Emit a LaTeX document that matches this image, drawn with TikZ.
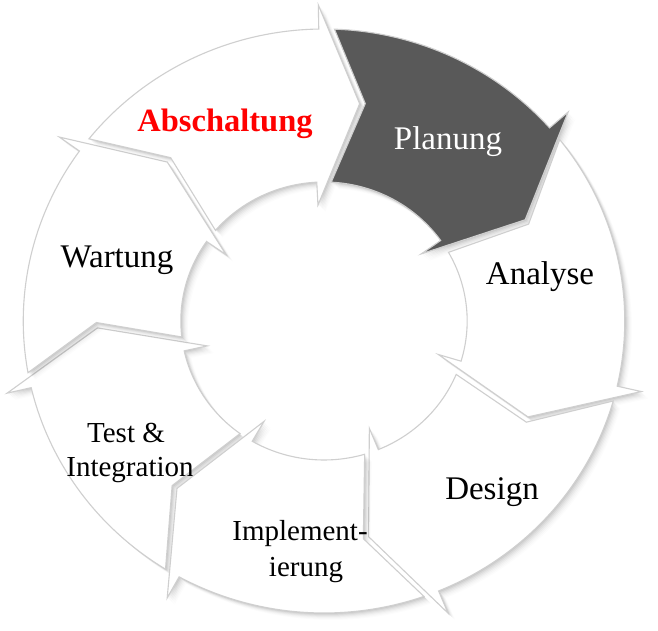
\documentclass[tikz,border=0pt]{standalone}
\usepackage{fontspec}
\setmainfont{Liberation Serif}
% #1,#2: outer/inner barb angle of the tail junction; #3,#4: outer/inner barb angle of the head junction
\newcommand{\segpath}[4]{%
  (90-#1-3.0:292) arc[start angle=90-#1-3.0, end angle=90-#3, radius=292]
  -- (90-#3:316) -- (90-#3/2-#4/2-11:220) -- (90-#4:116) -- (90-#4:139)
  arc[start angle=90-#4, end angle=90-#2-5.8, radius=139]
  -- (90-#1/2-#2/2-12.4:221) -- cycle}
\newcommand{\drawseg}[5]{%
  \foreach \sh/\op in {1/0.05,2/0.045,3/0.035,4/0.03,5/0.02,6/0.015,7/0.01}{%
    \fill[black,opacity=\op,shift={(\sh,-\sh)}] \segpath{#1}{#2}{#3}{#4};}
  \path[seg,fill=#5] \segpath{#1}{#2}{#3}{#4};}
\begin{document}
\begin{tikzpicture}[x=1pt,y=1pt,
  seg/.style={draw=black!19, line width=1.1pt, line join=miter},
  big/.style={font=\fontsize{33}{33}\selectfont, anchor=base, inner sep=0pt},
  small/.style={font=\fontsize{29}{29}\selectfont, anchor=base, inner sep=0pt}]
\useasboundingbox (0,0) rectangle (658,631);
\fill[white] (0,0) rectangle (658,631);
\begin{scope}[shift={(324,310)}, xscale=1.03]
  \drawseg{568.8}{570.1}{616.8}{617.6}{white}
\end{scope}
\node[small] (test1) at (126,188) {Test \&};
\node[small] (test2) at (130,154) {Integration};
\begin{scope}[shift={(324,310)}, xscale=1.03]
  \drawseg{616.8}{617.6}{665.6}{664.9}{white}
  \drawseg{665.6}{664.9}{719}{717.1}{white}
  \drawseg{359}{357.1}{408.6}{414.6}{black!65}
  \drawseg{408.6}{414.6}{462.9}{466.8}{white}
  \drawseg{462.9}{466.8}{517.6}{517.7}{white}
  \drawseg{517.6}{517.7}{568.8}{570.1}{white}
\end{scope}
\node[big] (wartung) at (117,363) {Wartung};
\node[big, font=\fontsize{32.5}{33}\selectfont\bfseries, text=red] (abschaltung) at (225,499) {Abschaltung};
\node[big, text=white] (planung) at (448,481) {Planung};
\node[big] (analyse) at (540,346) {Analyse};
\node[big] (design) at (492,131) {Design};
\node[small] (impl1) at (300,90) {Implement-};
\node[small] (impl2) at (306,54) {ierung};
\end{tikzpicture}
\end{document}
